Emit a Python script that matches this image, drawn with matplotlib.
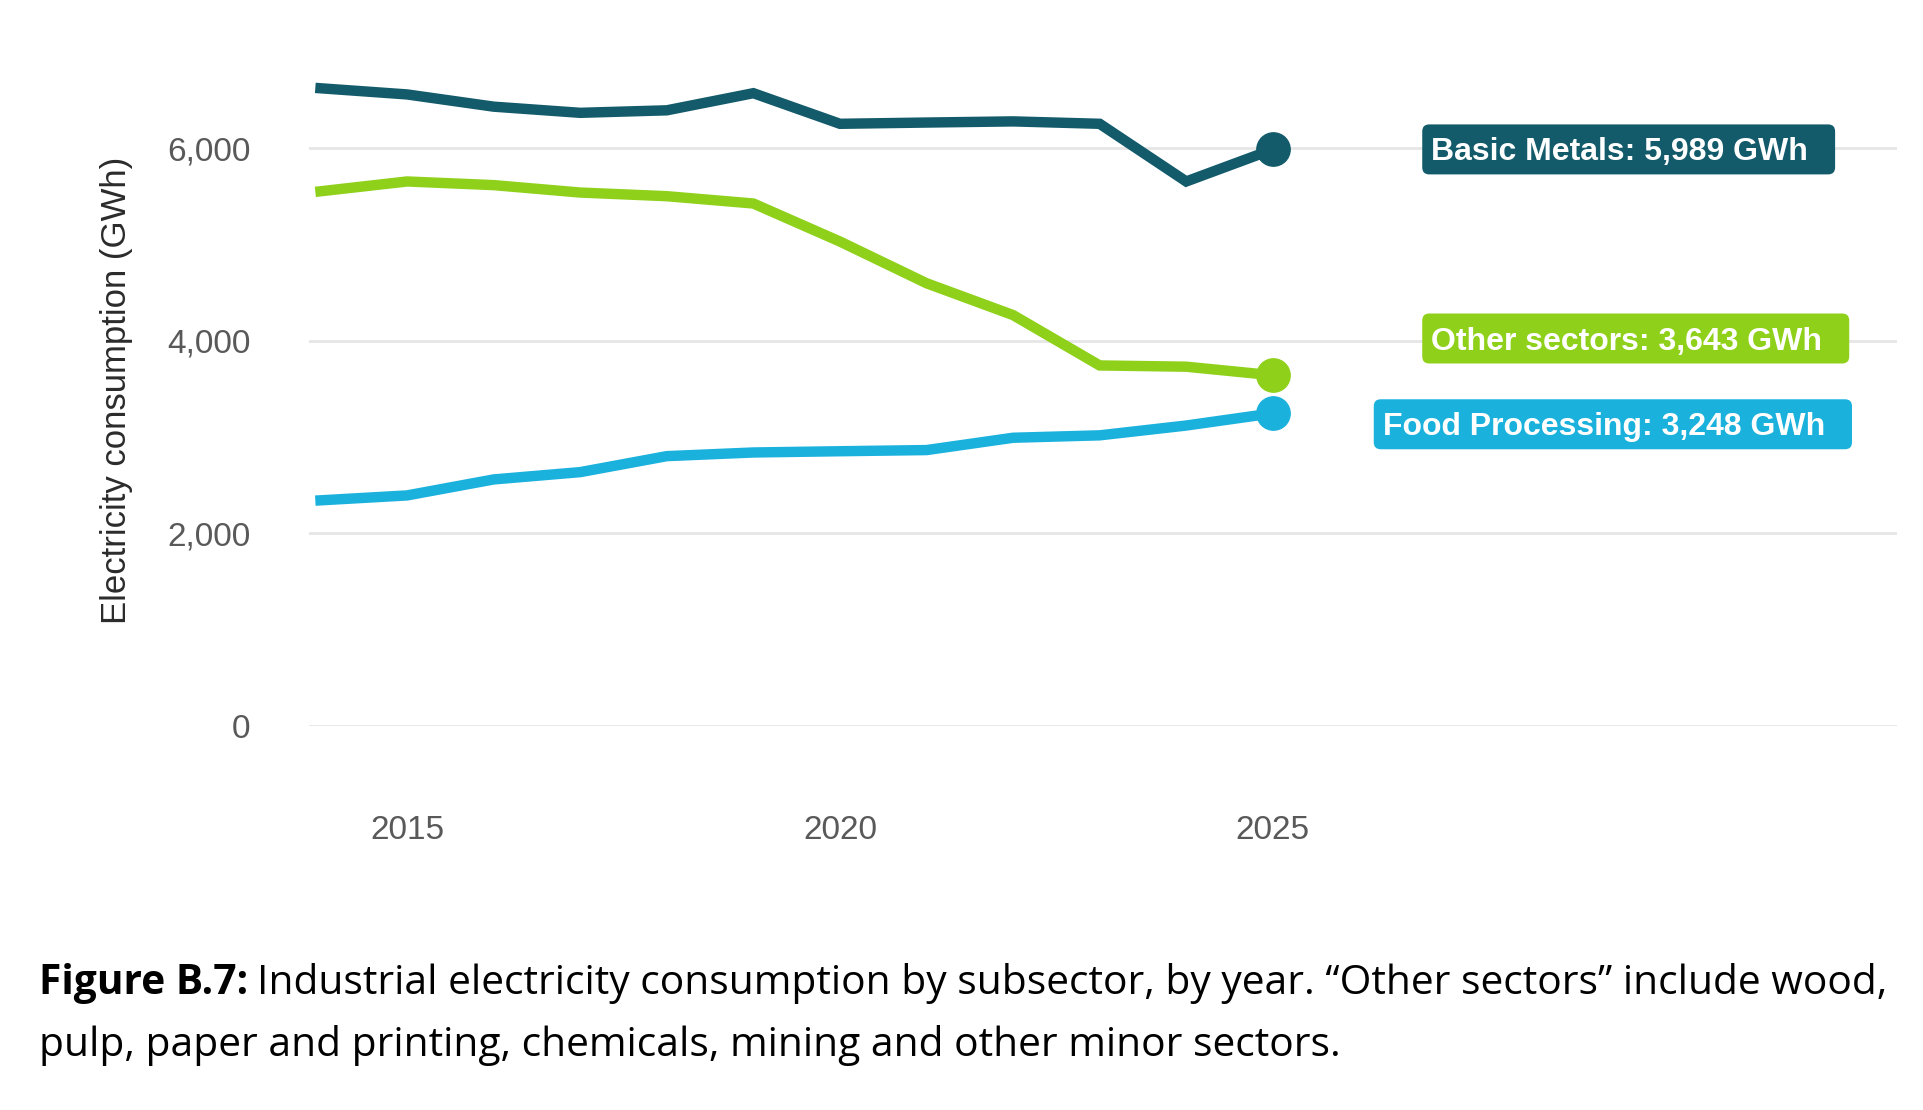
import matplotlib
matplotlib.use('Agg')
import matplotlib.pyplot as plt
from matplotlib.patches import FancyBboxPatch
from matplotlib.transforms import IdentityTransform

years = [2014, 2015, 2016, 2017, 2018, 2019, 2020, 2021, 2022, 2023, 2024, 2025]
basic_metals = [6624, 6560, 6433, 6369, 6395, 6573, 6255, 6268, 6280, 6255, 5656, 5989]
other_sectors = [5554, 5656, 5618, 5541, 5503, 5427, 5032, 4599, 4268, 3745, 3732, 3643]
food_processing = [2344, 2395, 2561, 2637, 2803, 2841, 2854, 2866, 2994, 3019, 3121, 3248]

series_names = ['Basic Metals', 'Other sectors', 'Food Processing']
series_colors = ['#135b6b', '#8fd11a', '#1ab1dd']
yticks = [0, 2000, 4000, 6000]
xticks = [2015, 2020, 2025]

# label placement (data coords of text left edge / centre)
label_x = [2026.83, 2026.83, 2026.27]
label_y = [5989, 4025, 3134]

W, H = 1924, 1110
fig = plt.figure(figsize=(W / 100, H / 100), dpi=100)
ax = fig.add_axes([309 / W, (H - 726) / H, 1588 / W, 664.3 / H])

ax.set_xlim(2013.867, 2032.21)
ax.set_ylim(0, 6900)

for vals, c in zip([basic_metals, other_sectors, food_processing], series_colors):
    ax.plot(years, vals, color=c, lw=7.5, solid_joinstyle='miter', clip_on=False, zorder=3)
    ax.plot(years[-1], vals[-1], 'o', color=c, ms=24, clip_on=False, zorder=4)

ax.set_yticks(yticks)
ax.set_yticklabels([f'{v:,}' for v in yticks])
ax.set_xticks(xticks)
ax.grid(axis='y', color='#e6e6e6', lw=2)
ax.set_axisbelow(True)
for s in ax.spines.values():
    s.set_visible(False)
ax.tick_params(axis='both', length=0, labelsize=24, labelcolor='#595959')
ax.tick_params(axis='y', pad=42)
ax.tick_params(axis='x', pad=64)
for lab in ax.get_xticklabels() + ax.get_yticklabels():
    lab.set_family('Liberation Sans')

fig.text(117 / W, 1 - 390 / H, 'Electricity consumption (GWh)', rotation=90,
         ha='center', va='center', fontsize=25, color='#2b2b2b', family='Liberation Sans')

vals_end = [basic_metals[-1], other_sectors[-1], food_processing[-1]]
texts = []
for name, v, c, x, y in zip(series_names, vals_end, series_colors, label_x, label_y):
    t = ax.annotate(f'{name}: {v:,} GWh', xy=(x, y), xytext=(0, -2.2),
                    textcoords='offset points', ha='left', va='center', fontsize=23,
                    fontweight='bold', color='white', family='Liberation Sans', zorder=6)
    texts.append((t, c, y))

# caption
cap_y1 = 1 - 984 / H
cap_y2 = 1 - 1046 / H
cap_font = 'Open Sans'
cap_size = 29.3
bold = fig.text(39 / W, cap_y1, 'Figure B.7:', fontsize=cap_size, fontweight='bold',
                family=cap_font, va='center', ha='left', color='black')
fig.canvas.draw()
r = fig.canvas.get_renderer()
bb = bold.get_window_extent(r)
fig.text(bb.x1 / W + 9 / W, cap_y1,
         'Industrial electricity consumption by subsector, by year. \u201cOther sectors\u201d include wood,',
         fontsize=cap_size, family=cap_font, va='center', ha='left', color='black')
fig.text(39 / W, cap_y2, 'pulp, paper and printing, chemicals, mining and other minor sectors.',
         fontsize=cap_size, family=cap_font, va='center', ha='left', color='black')

# label boxes drawn around rendered text
for t, c, y in texts:
    tb = t.get_window_extent(r)
    cy = ax.transData.transform((0, y))[1]
    box = FancyBboxPatch((tb.x0 - 9, cy - 25), tb.width + 36, 50,
                         boxstyle='round,pad=0,rounding_size=7',
                         transform=IdentityTransform(), fc=c, ec='none',
                         zorder=5, clip_on=False)
    ax.add_patch(box)

fig.savefig('out.png', dpi=100, facecolor='white')
